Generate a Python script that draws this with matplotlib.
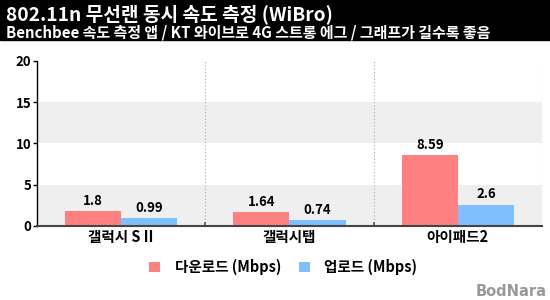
import numpy as np
import matplotlib
matplotlib.use('Agg')
import matplotlib.pyplot as plt
from matplotlib.patches import Rectangle

plt.rcParams['font.family'] = ['Noto Sans CJK KR', 'DejaVu Sans']
plt.rcParams['font.weight'] = 'bold'

devices = ['갤럭시 S II', '갤럭시탭', '아이패드2']
download = [1.8, 1.64, 8.59]
upload = [0.99, 0.74, 2.6]
series_names = ['다운로드 (Mbps)', '업로드 (Mbps)']
colors = ['#ff8080', '#80bfff']

title = '802.11n 무선랜 동시 속도 측정 (WiBro)'
subtitle = 'Benchbee 속도 측정 앱 / KT 와이브로 4G 스트롱 에그 / 그래프가 길수록 좋음'

fig = plt.figure(figsize=(5.5, 3.0), dpi=100)
fig.patches.append(Rectangle((0, 0.867), 1, 0.133, transform=fig.transFigure,
                             color='black', zorder=0))
fig.text(0.011, 0.953, title, color='white', fontsize=13.8, fontweight='bold',
         va='center', ha='left')
fig.text(0.011, 0.893, subtitle, color='white', fontsize=10.8, fontweight='bold',
         va='center', ha='left')

ax = fig.add_axes([0.0673, 0.2467, 0.918, 0.55])
x = np.arange(len(devices))
w = 1 / 3

for lo, hi in [(0, 5), (10, 15)]:
    ax.axhspan(lo, hi, color='#efefef', zorder=0, lw=0)

for b in [0.5, 1.5, 2.5]:
    ax.axvline(b, color='#aaaaaa', ls=(0, (1, 2)), lw=0.8, zorder=1)

b1 = ax.bar(x - w / 2, download, w, color=colors[0], label=series_names[0], zorder=2)
b2 = ax.bar(x + w / 2, upload, w, color=colors[1], label=series_names[1], zorder=2)
for bars, vals in [(b1, download), (b2, upload)]:
    for r, v in zip(bars, vals):
        ax.text(r.get_x() + r.get_width() / 2, v + 0.4, f'{v:g}', ha='center',
                va='bottom', fontsize=9.5, fontweight='bold')

ax.set_xlim(-0.5, 2.5)
ax.set_ylim(0, 20)
ax.set_yticks([0, 5, 10, 15, 20])
ax.set_xticks(x)
ax.set_xticklabels(devices, fontsize=10.5, fontweight='bold')
ax.set_xticks([0.5, 1.5], minor=True)
ax.tick_params(axis='x', which='major', length=0, pad=2)
ax.tick_params(axis='x', which='minor', direction='in', length=3, width=1.2, color='#555555')
ax.tick_params(axis='y', direction='out', length=3, width=1, pad=1, labelsize=9.5)
for lab in ax.get_yticklabels():
    lab.set_fontweight('bold')

ax.spines['top'].set_visible(False)
ax.spines['right'].set_visible(False)
ax.spines['left'].set_linewidth(1)
ax.spines['bottom'].set_linewidth(1.5)
ax.spines['bottom'].set_color('#444444')

fig.legend(handles=[b1, b2], labels=series_names, loc='center',
           bbox_to_anchor=(0.515, 0.11), ncol=2, frameon=False,
           prop={'size': 10.5, 'weight': 'bold'}, handlelength=0.75, handleheight=0.75,
           columnspacing=1.2, handletextpad=1.0)

fig.text(0.993, 0.03, 'BodNara', color='#999999', fontsize=10.5, fontweight='bold',
         ha='right', va='center', family=['DejaVu Sans'])

fig.savefig('out.png', dpi=100)
